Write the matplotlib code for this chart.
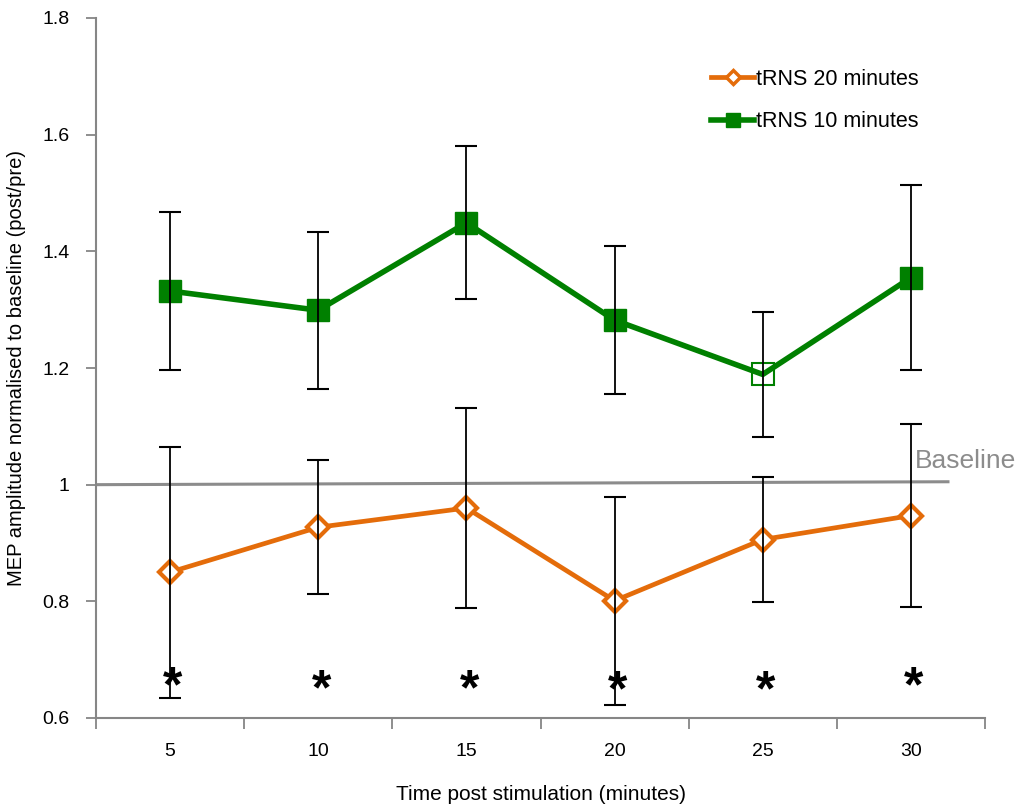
import numpy as np
import matplotlib
matplotlib.use("Agg")
import matplotlib.pyplot as plt

plt.rcParams["font.family"] = ["Liberation Sans", "DejaVu Sans"]

times = ["5", "10", "15", "20", "25", "30"]
trns20 = [0.850, 0.927, 0.960, 0.801, 0.906, 0.947]
trns20_err = [0.215, 0.115, 0.171, 0.178, 0.107, 0.157]
trns10 = [1.332, 1.299, 1.449, 1.282, 1.189, 1.355]
trns10_err = [0.135, 0.135, 0.131, 0.127, 0.107, 0.158]
trns10_hollow = [False, False, False, False, True, False]
star_y = [0.660, 0.655, 0.655, 0.652, 0.652, 0.660]
baseline_x = [-0.5, 5.25]
baseline_y = [1.0, 1.005]

orange = "#E46C0A"
green = "#008000"
grey = "#868686"

x = np.arange(len(times))

fig = plt.figure(figsize=(10.26, 8.07), dpi=100)
ax = fig.add_axes([96 / 1026, 89 / 807, 889 / 1026, 700 / 807])

# baseline reference
ax.plot(baseline_x, baseline_y, color="#8c8c8c", lw=2.2, zorder=1)
ax.text(5.03, 1.04, "Baseline", color="#8c8c8c", fontsize=19, va="center", ha="left",
        clip_on=False)

# tRNS 20 min: hollow orange diamonds
ax.plot(x, trns20, color=orange, lw=3.4, marker="D", ms=11, mfc="white",
        mec=orange, mew=3, zorder=3)
ax.errorbar(x, trns20, yerr=trns20_err, fmt="none", ecolor="black", elinewidth=1.3,
            capsize=8, capthick=1.5, zorder=4)

# tRNS 10 min: filled green squares (25 min point is open)
ax.plot(x, trns10, color=green, lw=4, zorder=3)
solid = [i for i in x if not trns10_hollow[i]]
hollow = [i for i in x if trns10_hollow[i]]
ax.plot(x[solid], np.array(trns10)[solid], ls="none", marker="s", ms=16, color=green, zorder=3)
ax.plot(x[hollow], np.array(trns10)[hollow], ls="none", marker="s", ms=16, mfc="none",
        mec=green, mew=1.5, zorder=3)
ax.errorbar(x, trns10, yerr=trns10_err, fmt="none", ecolor="black", elinewidth=1.3,
            capsize=8, capthick=1.5, zorder=4)

# significance stars
for xi, yi in zip(x, star_y):
    ax.text(xi + 0.02, yi, "*", fontsize=36, fontweight="bold", ha="center",
            va="center_baseline", zorder=5)

# legend proxies
h20, = ax.plot([], [], color=orange, lw=3.4, marker="D", ms=7, mfc="white", mec=orange, mew=2.5)
h10, = ax.plot([], [], color=green, lw=4, marker="s", ms=10)
ax.legend([h20, h10], ["tRNS 20 minutes", "tRNS 10 minutes"], frameon=False,
          fontsize=15.5, loc="upper left", bbox_to_anchor=(0.67, 0.955),
          handlelength=2.0, handletextpad=0.1, labelspacing=1.0)

ax.set_xlim(-0.5, 5.5)
ax.set_ylim(0.6, 1.8)
yt = np.round(np.arange(0.6, 1.81, 0.2), 1)
ax.set_yticks(yt)
ax.set_yticklabels([f"{v:g}" for v in yt])
ax.set_xticks(np.arange(-0.5, 5.6, 1.0))
ax.set_xticklabels([])
ax.set_xticks(x, minor=True)
ax.set_xticklabels(times, minor=True)
ax.tick_params(axis="x", which="minor", length=0, pad=18, labelsize=14)
ax.tick_params(axis="x", which="major", length=8, width=1.3, color=grey, direction="out")
ax.tick_params(axis="y", length=7, width=1.3, color=grey, direction="out", pad=12, labelsize=14)

for s in ["top", "right"]:
    ax.spines[s].set_visible(False)
for s in ["left", "bottom"]:
    ax.spines[s].set_color(grey)
    ax.spines[s].set_linewidth(1.5)

ax.set_xlabel("Time post stimulation (minutes)", fontsize=15, labelpad=18)
ax.set_ylabel("MEP amplitude normalised to baseline (post/pre)", fontsize=14.5, labelpad=12)

fig.savefig("out.png", dpi=100)
